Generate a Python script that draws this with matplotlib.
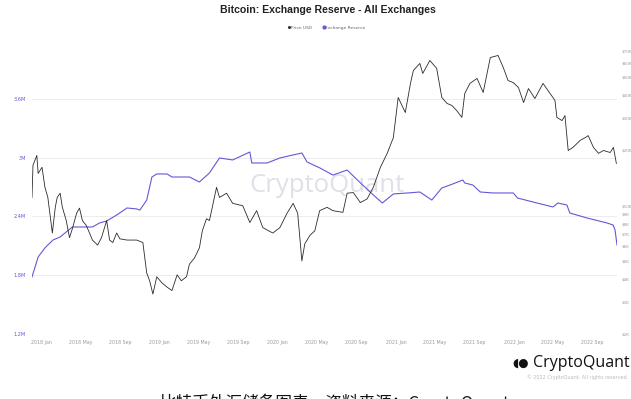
import pandas as pd
import matplotlib
matplotlib.use('Agg')
import matplotlib.pyplot as plt
import matplotlib.dates as mdates
from matplotlib.ticker import FixedLocator, NullLocator, FixedFormatter
from matplotlib.lines import Line2D


# data
# ------------------------------------------------------------------
price_dates = [
    '2017-12-02', '2017-12-05', '2017-12-17', '2017-12-21', '2018-01-02',
    '2018-01-11', '2018-01-20', '2018-02-03', '2018-02-12', '2018-02-18',
    '2018-02-27', '2018-03-06', '2018-03-18', '2018-03-28', '2018-04-06',
    '2018-04-19', '2018-04-28', '2018-05-07', '2018-05-19', '2018-05-29',
    '2018-06-07', '2018-06-23', '2018-07-05', '2018-07-21', '2018-07-30',
    '2018-08-09', '2018-08-21', '2018-08-31', '2018-09-22', '2018-10-22',
    '2018-11-10', '2018-11-22', '2018-12-01', '2018-12-11', '2018-12-23',
    '2019-01-08', '2019-01-24', '2019-02-08', '2019-02-24', '2019-03-09',
    '2019-03-25', '2019-04-03', '2019-04-19', '2019-05-04', '2019-05-13',
    '2019-05-26', '2019-06-04', '2019-06-26', '2019-07-05', '2019-07-27',
    '2019-08-15', '2019-09-15', '2019-10-07', '2019-10-28', '2019-11-16',
    '2019-12-17', '2020-01-08', '2020-01-30', '2020-02-18', '2020-03-03',
    '2020-03-16', '2020-03-25', '2020-04-10', '2020-04-25', '2020-05-10',
    '2020-06-02', '2020-06-20', '2020-07-21', '2020-08-03', '2020-08-22',
    '2020-09-13', '2020-10-04', '2020-10-23', '2020-11-14', '2020-12-05',
    '2020-12-24', '2021-01-08', '2021-01-30', '2021-02-15', '2021-02-24',
    '2021-03-16', '2021-03-25', '2021-04-16', '2021-05-07', '2021-05-23',
    '2021-06-08', '2021-06-23', '2021-07-08', '2021-07-24', '2021-08-02',
    '2021-08-18', '2021-09-09', '2021-09-28', '2021-10-20', '2021-11-13',
    '2021-11-29', '2021-12-14', '2021-12-30', '2022-01-15', '2022-01-31',
    '2022-02-15', '2022-03-07', '2022-04-01', '2022-04-23', '2022-05-08',
    '2022-05-14', '2022-05-30', '2022-06-08', '2022-06-18', '2022-07-03',
    '2022-07-25', '2022-08-10', '2022-08-19', '2022-09-04', '2022-09-20',
    '2022-10-05', '2022-10-26', '2022-11-05', '2022-11-14',
]
price_usd = [
    11100, 16600, 18800, 15000, 16200,
    12600, 11100, 7100, 9800, 11100,
    11700, 9800, 8300, 6700, 7500,
    9100, 9700, 8300, 7800, 7100,
    6500, 6100, 6700, 8300, 6500,
    6300, 7100, 6600, 6500, 6500,
    6300, 4300, 3900, 3300, 4100,
    3800, 3600, 3450, 4200, 3900,
    4100, 4800, 5200, 5900, 7300,
    8500, 8300, 12600, 11100, 11700,
    10300, 10000, 8100, 9400, 7600,
    7100, 7600, 9100, 10300, 9100,
    5000, 6200, 6900, 7300, 9400,
    9800, 9400, 9200, 11700, 11800,
    10400, 10900, 12600, 16200, 19300,
    23500, 38900, 32200, 46400, 54600,
    59600, 52600, 61900, 56000, 38900,
    36100, 35200, 33000, 30300, 40900,
    46400, 49400, 41400, 64200, 65900,
    56700, 48100, 46900, 44100, 36500,
    43500, 38400, 46400, 40900, 37500,
    30300, 29100, 31000, 20000, 20800,
    22700, 23500, 24100, 20800, 19300,
    20000, 19500, 20800, 17000,
]

reserve_dates = [
    '2017-12-02', '2017-12-21', '2018-01-11', '2018-01-20', '2018-02-05',
    '2018-02-27', '2018-03-18', '2018-04-06', '2018-05-19', '2018-06-07',
    '2018-06-29', '2018-07-21', '2018-08-21', '2018-09-22', '2018-10-22',
    '2018-11-01', '2018-11-22', '2018-12-08', '2018-12-23', '2019-01-24',
    '2019-02-08', '2019-04-03', '2019-05-04', '2019-06-04', '2019-07-05',
    '2019-08-15', '2019-10-07', '2019-10-13', '2019-11-29', '2020-01-08',
    '2020-02-18', '2020-03-16', '2020-04-01', '2020-05-11', '2020-06-20',
    '2020-08-03', '2020-09-04', '2020-10-13', '2020-11-20', '2020-12-24',
    '2021-02-06', '2021-03-16', '2021-04-22', '2021-05-23', '2021-06-17',
    '2021-07-27', '2021-08-02', '2021-08-27', '2021-09-19', '2021-10-29',
    '2021-12-30', '2022-01-12', '2022-03-01', '2022-05-02', '2022-05-17',
    '2022-06-14', '2022-06-23', '2022-08-15', '2022-10-16', '2022-11-04',
    '2022-11-10', '2022-11-16',
]
reserve_btc = [
    1.782, 1.986, 2.078, 2.108, 2.159,
    2.190, 2.241, 2.292, 2.292, 2.292,
    2.333, 2.353, 2.414, 2.486, 2.476,
    2.465, 2.567, 2.802, 2.833, 2.833,
    2.802, 2.802, 2.751, 2.843, 2.996,
    2.976, 3.057, 2.945, 2.945, 2.996,
    3.027, 3.047, 2.955, 2.894, 2.822,
    2.873, 2.771, 2.649, 2.537, 2.629,
    2.639, 2.649, 2.567, 2.690, 2.720,
    2.771, 2.741, 2.720, 2.649, 2.639,
    2.639, 2.588, 2.547, 2.496, 2.537,
    2.516, 2.435, 2.384, 2.333, 2.312,
    2.261, 2.108,
]  # millions of BTC

reserve_ticks = [1.2, 1.8, 2.4, 3.0, 3.6]
reserve_labels = ['1.2M', '1.8M', '2.4M', '3M', '3.6M']
price_ticks = [2000, 3000, 4000, 5000, 6000, 7000, 8000, 9000, 10000,
               20000, 30000, 40000, 50000, 60000, 70000]
price_labels = ['$2K', '$3K', '$4K', '$5K', '$6K', '$7K', '$8K', '$9K',
                '$10K', '$20K', '$30K', '$40K', '$50K', '$60K', '$70K']

PURPLE = '#6259d8'
GREY = '#9a9a9a'

# figure
# ------------------------------------------------------------------
fig = plt.figure(figsize=(6.31, 3.99), dpi=100)
ax = fig.add_axes([32 / 631, 1 - 334 / 399, 585 / 631, 294 / 399])
ax2 = ax.twinx()

ax.plot(pd.to_datetime(reserve_dates), reserve_btc, color=PURPLE, lw=0.8,
        zorder=3)
ax2.plot(pd.to_datetime(price_dates), price_usd, color='#2b2b2b', lw=0.6)

ax.set_xlim(pd.Timestamp('2017-12-02'), pd.Timestamp('2022-11-16'))
ax.set_ylim(1.2, 4.2)
ax2.set_yscale('log')
ax2.set_ylim(2000, 80000)

ax.set_yticks(reserve_ticks)
ax.set_yticklabels(reserve_labels)
ax.tick_params(axis='y', length=0, pad=4.5, labelsize=3.6, labelcolor=PURPLE)
ax.grid(axis='y', color='#ededed', lw=0.8)
ax.grid(axis='x', visible=False)

xticks = pd.date_range('2018-01-01', '2022-09-01', freq='4MS')
ax.set_xticks(xticks)
ax.xaxis.set_major_formatter(mdates.DateFormatter('%Y %b'))
ax.tick_params(axis='x', length=0, pad=4, labelsize=3.4, labelcolor=GREY)

ax2.yaxis.set_major_locator(FixedLocator(price_ticks))
ax2.yaxis.set_major_formatter(FixedFormatter(price_labels))
ax2.yaxis.set_minor_locator(NullLocator())
ax2.tick_params(axis='y', length=0, pad=3, labelsize=3.0, labelcolor=GREY)

for a in (ax, ax2):
    for s in a.spines.values():
        s.set_visible(False)

# watermark
ax.text(0.505, 1 - (185 - 40) / 294, 'CryptoQuant', transform=ax.transAxes,
        ha='center', va='center', fontsize=18.5, color='#dfe0e8',
        family='Open Sans', zorder=0.5)

# title and legend
fig.text(0.52, 1 - 10 / 399, 'Bitcoin: Exchange Reserve - All Exchanges',
         ha='center', va='center', fontsize=7.6, fontweight='bold',
         family='Liberation Sans', color='#222222')
handles = [Line2D([], [], ls='none', marker='o', ms=1.2, color='#333333'),
           Line2D([], [], ls='none', marker='o', ms=2.0, color=PURPLE)]
fig.legend(handles, ['Price USD', 'Exchange Reserve'], loc='center',
           bbox_to_anchor=(0.518, 1 - 28 / 399), ncol=2, frameon=False,
           fontsize=3.2, handlelength=0.4, handletextpad=0.2,
           columnspacing=2.5, labelcolor='#666666')

# logo
fig.text(630 / 631, 1 - 363 / 399, 'CryptoQuant', ha='right', va='center',
         fontsize=11.5, family='Open Sans', color='#111111')
fig.text(521 / 631, 1 - 363 / 399, '◖●', ha='center', va='center',
         fontsize=8.5, family='DejaVu Sans', color='#111111')
fig.text(628 / 631, 1 - 377 / 399, '© 2022 CryptoQuant. All rights reserved.',
         ha='right', va='center', fontsize=3.5, color='#bbbbbb')

# caption (cut off by the bottom edge)
fig.text(160 / 631, 1 - 394 / 399, '比特币外汇储备图表，资料来源：CryptoQuant',
         ha='left', va='top', fontsize=12, color='#111111',
         family=['Noto Sans CJK SC', 'DejaVu Sans'])

fig.savefig('out.png', dpi=100)
